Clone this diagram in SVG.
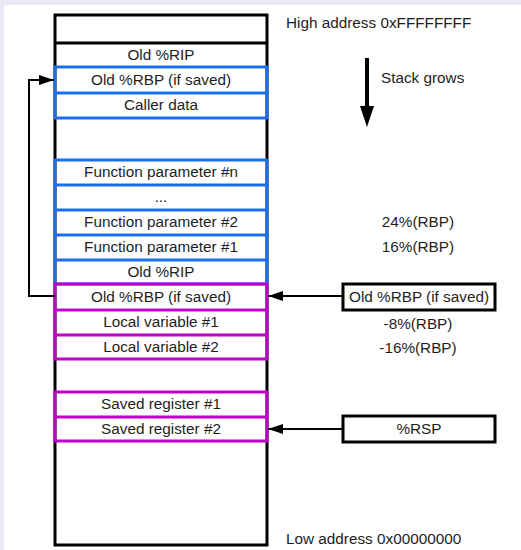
<svg xmlns="http://www.w3.org/2000/svg" width="521" height="550" viewBox="0 0 521 550">
<style>
text{font-family:"Liberation Sans",Arial,sans-serif;font-size:15.3px;fill:#1e1e1e}
.c{text-anchor:middle}
.blk{fill:none;stroke:#000;stroke-width:3}
.blu{fill:none;stroke:#1a6ff0;stroke-width:3}
.mag{fill:none;stroke:#c000c8;stroke-width:3}
.ln{fill:none;stroke:#000;stroke-width:2}
</style>
<defs>
<marker id="ah" viewBox="0 0 10 10" refX="10" refY="5" markerWidth="15" markerHeight="10" markerUnits="userSpaceOnUse" orient="auto" preserveAspectRatio="none">
<path d="M0,0L10,5L0,10z" fill="#000"/>
</marker>
</defs>
<rect x="0" y="0" width="521" height="550" fill="#e9e9f3"/>
<rect x="4" y="5" width="517" height="545" fill="#fff"/>
<g id="stack">
<rect class="blk" x="55" y="15" width="212" height="530"/>
<line class="blk" x1="55" y1="43" x2="267" y2="43"/>
<text class="c" x="161" y="60">Old %RIP</text>
</g>
<g id="caller">
<rect class="blu" x="55" y="67" width="212" height="51"/>
<line class="blu" x1="55" y1="93" x2="267" y2="93"/>
<text class="c" x="161" y="85">Old %RBP (if saved)</text>
<text class="c" x="161" y="110">Caller data</text>
</g>
<g id="params">
<rect class="blu" x="55" y="160" width="212" height="124"/>
<line class="blu" x1="55" y1="185" x2="267" y2="185"/>
<line class="blu" x1="55" y1="210" x2="267" y2="210"/>
<line class="blu" x1="55" y1="235" x2="267" y2="235"/>
<line class="blu" x1="55" y1="260" x2="267" y2="260"/>
<text class="c" x="161" y="177">Function parameter #n</text>
<text class="c" x="161" y="202">...</text>
<text class="c" x="161" y="227">Function parameter #2</text>
<text class="c" x="161" y="252">Function parameter #1</text>
<text class="c" x="161" y="277">Old %RIP</text>
</g>
<g id="locals">
<rect class="mag" x="55" y="284" width="212" height="75"/>
<line class="mag" x1="55" y1="310" x2="267" y2="310"/>
<line class="mag" x1="55" y1="335" x2="267" y2="335"/>
<text class="c" x="161" y="302">Old %RBP (if saved)</text>
<text class="c" x="161" y="327">Local variable #1</text>
<text class="c" x="161" y="352">Local variable #2</text>
</g>
<g id="saved">
<rect class="mag" x="55" y="392" width="212" height="49"/>
<line class="mag" x1="55" y1="417" x2="267" y2="417"/>
<text class="c" x="161" y="409">Saved register #1</text>
<text class="c" x="161" y="434">Saved register #2</text>
</g>
<g id="rbpbox">
<rect class="blk" x="343" y="284" width="152" height="26"/>
<text class="c" x="419" y="302">Old %RBP (if saved)</text>
</g>
<g id="rspbox">
<rect class="blk" x="343" y="416" width="152" height="26"/>
<text class="c" x="419" y="434">%RSP</text>
</g>
<g id="labels">
<text x="286" y="28">High address 0xFFFFFFFF</text>
<text x="381" y="83">Stack grows</text>
<text class="c" x="418" y="227">24%(RBP)</text>
<text class="c" x="418" y="252">16%(RBP)</text>
<text class="c" x="418" y="329">-8%(RBP)</text>
<text class="c" x="418" y="353">-16%(RBP)</text>
<text x="286" y="544">Low address 0x00000000</text>
</g>
<g id="connectors">
<polyline class="ln" points="55,296 29,296 29,80 54,80" marker-end="url(#ah)"/>
<line class="ln" x1="343" y1="296" x2="268" y2="296" marker-end="url(#ah)"/>
<line class="ln" x1="343" y1="429" x2="268" y2="429" marker-end="url(#ah)"/>
<line x1="367" y1="58" x2="367" y2="108" stroke="#000" stroke-width="4"/>
<path d="M360,106L374,106L367,127z" fill="#000"/>
</g>
</svg>
